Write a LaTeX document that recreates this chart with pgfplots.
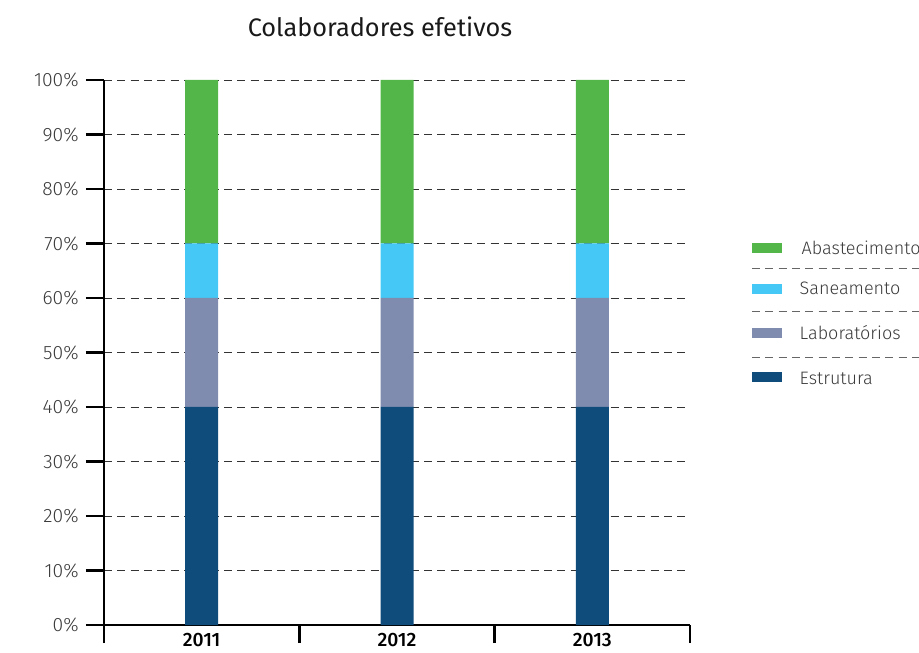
\documentclass[border=0pt]{standalone}
\usepackage{pgfplots}
\pgfplotsset{compat=1.18}
\usepackage{fontspec}
\setmainfont{Fira Sans}
\newfontfamily\lightfont{Fira Sans Light}
\newfontfamily\medfont{Fira Sans Medium}
\definecolor{cEstr}{HTML}{0F4B7B}
\definecolor{cLab}{HTML}{7F8CB0}
\definecolor{cSan}{HTML}{45C8F5}
\definecolor{cAbs}{HTML}{52B748}
\definecolor{cTxt}{HTML}{3A3A3A}
\begin{document}
\begin{tikzpicture}[x=0.75pt,y=0.75pt]
\clip (0,0) rectangle (919,652);
\path[use as bounding box] (0,0) rectangle (919,652);
\begin{axis}[
    at={(78pt,20.25pt)}, anchor=south west,
    scale only axis, width=439.5pt, height=408.75pt,
    ybar stacked, bar width=24.75pt,
    xmin=0, xmax=3, ymin=0, ymax=100,
    axis x line=bottom, axis y line=left,
    axis line style={-, line width=1.8pt, black},
    xtick={0,1,2,3}, xticklabels={},
    extra x ticks={0.5,1.5,2.5},
    extra x tick labels={2011,2012,2013},
    extra x tick style={major tick length=0pt,
        tick label style={font=\medfont\fontsize{14.5}{14.5}\selectfont, text=black, yshift=-3pt}},
    ytick={0,10,...,100},
    yticklabel={\pgfmathprintnumber{\tick}\%},
    yticklabel style={font=\lightfont\fontsize{14.5}{14.5}\selectfont, text=cTxt, xshift=-2pt},
    /pgf/number format/assume math mode=true,
    tick align=outside, major tick length=13.5pt,
    tick style={line width=1.8pt, black},
    ymajorgrids, grid style={dash pattern=on 6pt off 4pt, line width=0.6pt, black!80},
    clip=false,
]
\addplot[fill=cEstr, draw=none] coordinates {(0.5,40)(1.5,40)(2.5,40)};
\addplot[fill=cLab, draw=none] coordinates {(0.5,20)(1.5,20)(2.5,20)};
\addplot[fill=cSan, draw=none] coordinates {(0.5,10)(1.5,10)(2.5,10)};
\addplot[fill=cAbs, draw=none] coordinates {(0.5,30)(1.5,30)(2.5,30)};
\end{axis}
\node[font=\fontsize{19}{19}\selectfont, text=black!90] at (380,625) {Colaboradores efetivos};
% legend
\fill[cAbs] (752,399) rectangle (782,409);
\fill[cSan] (752,358) rectangle (782,368);
\fill[cLab] (752,314) rectangle (782,324);
\fill[cEstr] (752,270) rectangle (782,280);
\begin{scope}[font=\lightfont\fontsize{13.5}{13.5}\selectfont, text=cTxt]
\node[anchor=west] at (797,404) {Abastecimento};
\node[anchor=west] at (795,364) {Saneamento};
\node[anchor=west] at (795,319) {Laboratórios};
\node[anchor=west] at (795,274) {Estrutura};
\end{scope}
\begin{scope}[dash pattern=on 6pt off 4pt, line width=0.6pt, black!60]
\draw (752,384) -- (919,384);
\draw (752,341) -- (919,341);
\draw (752,295) -- (919,295);
\end{scope}
\end{tikzpicture}
\end{document}
